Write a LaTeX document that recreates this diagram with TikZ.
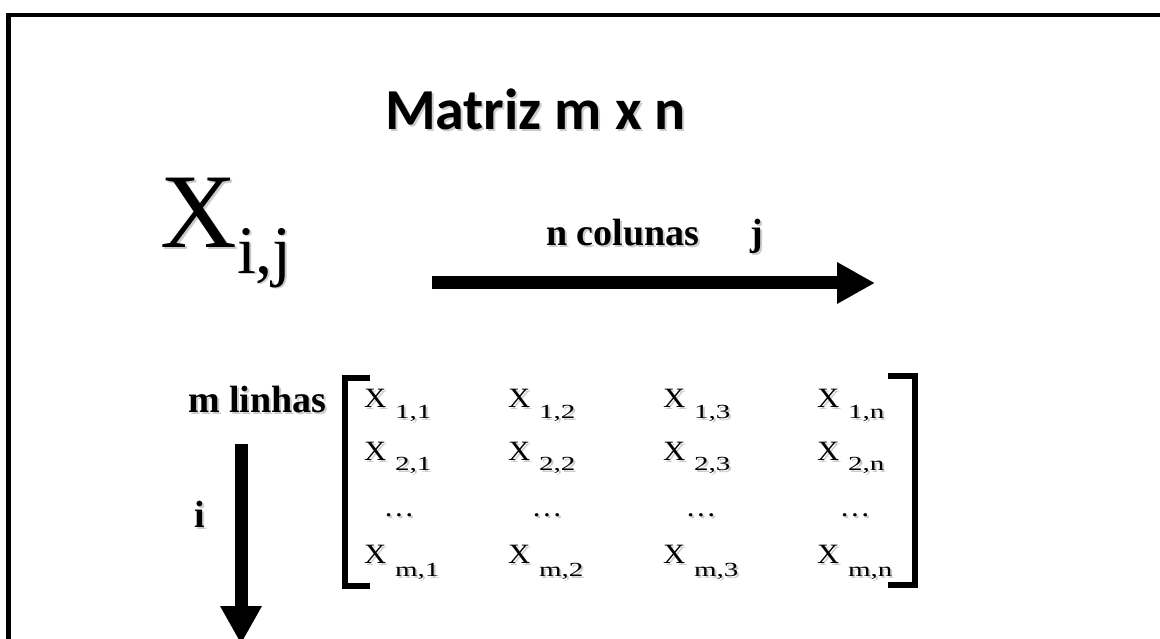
\documentclass[tikz,border=0pt]{standalone}
\usepackage{fontspec}
\setmainfont{Liberation Serif}
\newfontfamily\titlefont{Carlito}
\newfontfamily\entfont[FakeStretch=1.1]{Liberation Serif}
\newfontfamily\subfont[FakeStretch=1.45]{Liberation Serif}
\usetikzlibrary{arrows.meta}
\tikzset{
  frameline/.style={line width=4.5pt, line join=miter},
  bracketline/.style={line width=6pt, line join=miter},
  bigarrow/.style={line width=13pt, -{Triangle[length=38pt,width=39pt]}},
  txt/.style={anchor=base west, inner sep=0pt, outer sep=0pt},
  shadow/.style={text=black!20},
  titletxt/.style={txt, font=\titlefont\bfseries\fontsize{58}{60}\selectfont},
  bigX/.style={txt, font=\fontsize{106}{110}\selectfont},
  bigsub/.style={txt, font=\fontsize{68}{70}\selectfont},
  lbl/.style={txt, font=\bfseries\fontsize{38}{40}\selectfont},
  entX/.style={txt, font=\entfont\fontsize{28}{30}\selectfont},
  entS/.style={txt, font=\subfont\fontsize{20}{22}\selectfont},
  dotsS/.style={anchor=base, inner sep=0pt, font=\entfont\fontsize{28}{30}\selectfont}
}
% text with soft shadow: #1 name, #2 style, #3 x, #4 y, #5 text
\newcommand{\shtxt}[5]{%
  \node[#2, shadow] (#1s) at (#3+2,#4+2) {#5};
  \node[#2] (#1) at (#3,#4) {#5};}
\newcommand{\entry}[5]{% name, x, y, sub y, subscript
  \shtxt{#1x}{entX}{#2}{#3}{X}
  \shtxt{#1s}{entS}{#2+31}{#4}{#5}}
\begin{document}
\begin{tikzpicture}[x=1pt,y=-1pt]
\useasboundingbox (0,0) rectangle (1160,639);
\clip (0,0) rectangle (1160,639);
\fill[white] (0,0) rectangle (1160,639);
% frame (cropped)
\coordinate (fbl) at (8.5,650);
\coordinate (ftl) at (8.5,15);
\coordinate (ftr) at (1170,15);
\draw[frameline] (fbl) -- (ftl) -- (ftr);
% title
\shtxt{title}{titletxt}{385}{130}{Matriz m x n}
% X_{i,j}
\shtxt{X}{bigX}{160}{248}{X}
\shtxt{ij}{bigsub}{237}{273}{i,j}
% column label and arrow
\shtxt{ncol}{lbl}{546}{246}{n colunas}
\shtxt{jlbl}{lbl}{750}{246}{j}
\coordinate (ha) at (432,283);
\coordinate (hb) at (875,283);
\draw[bigarrow] (ha) -- (hb);
% row label and arrow
\shtxt{mlin}{lbl}{188}{412}{m linhas}
\shtxt{ilbl}{lbl}{194}{527}{i}
\coordinate (va) at (241,444);
\coordinate (vb) at (241,644);
\draw[bigarrow] (va) -- (vb);
% brackets
\coordinate (lb1) at (370,378);
\coordinate (lb2) at (345,378);
\coordinate (lb3) at (345,586);
\coordinate (lb4) at (370,586);
\draw[bracketline] (lb1) -- (lb2) -- (lb3) -- (lb4);
\coordinate (rb1) at (888,376);
\coordinate (rb2) at (915,376);
\coordinate (rb3) at (915,585);
\coordinate (rb4) at (888,585);
\draw[bracketline] (rb1) -- (rb2) -- (rb3) -- (rb4);
% entries
\entry{a11}{364}{407}{418}{1,1}
\entry{a12}{508}{407}{418}{1,2}
\entry{a13}{663}{407}{418}{1,3}
\entry{a1n}{817}{407}{418}{1,n}
\entry{a21}{364}{460}{470}{2,1}
\entry{a22}{508}{460}{470}{2,2}
\entry{a23}{663}{460}{470}{2,3}
\entry{a2n}{817}{460}{470}{2,n}
\entry{am1}{364}{563}{576}{m,1}
\entry{am2}{508}{563}{576}{m,2}
\entry{am3}{663}{563}{576}{m,3}
\entry{amn}{817}{563}{576}{m,n}
\node[dotsS, text=black!20] (d1s) at (401,518) {\dots};
\node[dotsS] (d1) at (399,516) {\dots};
\node[dotsS, text=black!20] (d2s) at (549,518) {\dots};
\node[dotsS] (d2) at (547,516) {\dots};
\node[dotsS, text=black!20] (d3s) at (703,518) {\dots};
\node[dotsS] (d3) at (701,516) {\dots};
\node[dotsS, text=black!20] (d4s) at (857,518) {\dots};
\node[dotsS] (d4) at (855,516) {\dots};
\end{tikzpicture}
\end{document}
